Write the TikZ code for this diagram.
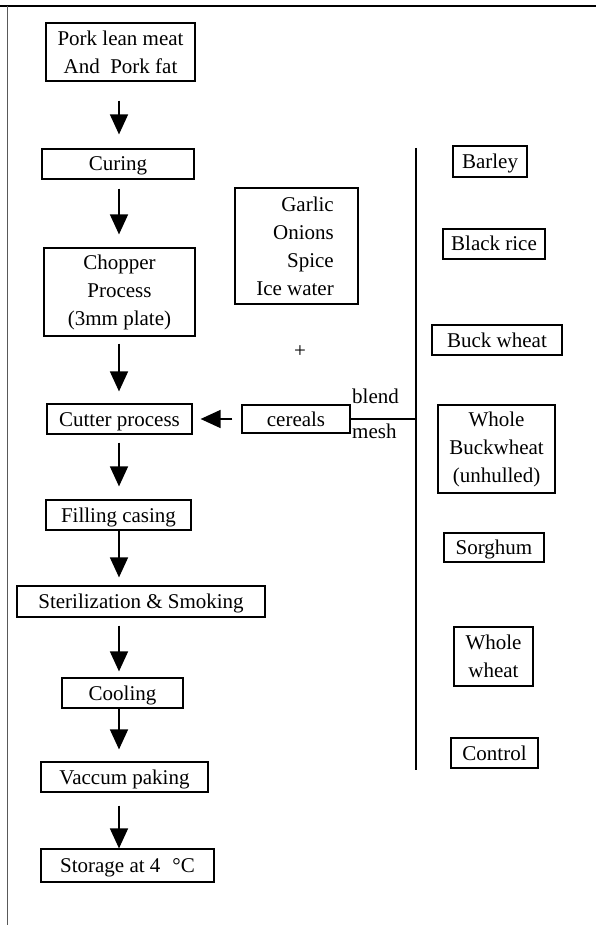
\documentclass[tikz,border=0pt]{standalone}
\usepackage{fontspec}
\setmainfont{Liberation Serif}
\usetikzlibrary{arrows.meta}
\tikzset{
  box/.style={draw, line width=1.2pt, inner sep=0pt, align=center, font=\fontsize{21}{28}\selectfont},
  one/.style={text height=16pt, text depth=2pt},
  lbl/.style={inner sep=0pt, font=\fontsize{21}{28}\selectfont},
  flow/.style={line width=1.5pt, -{Triangle[width=18pt,length=20pt]}},
  frame/.style={line width=1.8pt},
  sideframe/.style={line width=0.9pt, black!65},
  bar/.style={line width=1.4pt}
}
\begin{document}
\begin{tikzpicture}[x=1pt,y=-1pt]
\useasboundingbox (0,0) rectangle (596,925);
% frame
\coordinate (tl) at (0,6);
\coordinate (tr) at (596,6);
\coordinate (lt) at (7,6);
\coordinate (lb) at (7,925);
\draw[frame] (tl) -- (tr);
\draw[sideframe] (lt) -- (lb);
% main column
\node[box, minimum width=149pt, minimum height=58pt] (pork) at (120.5,52) {Pork lean meat\\And\ \ Pork fat};
\node[box, one, minimum width=152pt, minimum height=30pt] (curing) at (118,164) {Curing};
\node[box, minimum width=151pt, minimum height=88pt] (chopper) at (119.5,292) {Chopper\\Process\\(3mm plate)};
\node[box, one, minimum width=145pt, minimum height=30pt] (cutter) at (119.5,419) {Cutter process};
\node[box, one, minimum width=145pt, minimum height=30pt] (filling) at (118.5,515) {Filling casing};
\node[box, one, minimum width=248pt, minimum height=31pt] (steril) at (141,601.5) {Sterilization \& Smoking};
\node[box, one, minimum width=121pt, minimum height=30pt] (cooling) at (122.5,693) {Cooling};
\node[box, one, minimum width=167pt, minimum height=30pt] (vaccum) at (124.5,777) {Vaccum paking};
\node[box, one, minimum width=173pt, minimum height=33pt] (storage) at (127.5,865.5) {Storage at 4\hspace{12pt}°C};
% arrow axis
\coordinate (ax) at (119,0);
\draw[flow, shorten <=19pt, shorten >=14pt] (pork.south -| ax) -- (curing.north -| ax);
\draw[flow, shorten <=9pt, shorten >=13pt] (curing.south -| ax) -- (chopper.north -| ax);
\draw[flow, shorten <=7pt, shorten >=12pt] (chopper.south -| ax) -- (cutter.north -| ax);
\draw[flow, shorten <=8pt, shorten >=13pt] (cutter.south -| ax) -- (filling.north -| ax);
\draw[flow, shorten >=8pt] (filling.south -| ax) -- (steril.north -| ax);
\draw[flow, shorten <=8pt, shorten >=6pt] (steril.south -| ax) -- (cooling.north -| ax);
\draw[flow, shorten >=12pt] (cooling.south -| ax) -- (vaccum.north -| ax);
\draw[flow, shorten <=13pt] (vaccum.south -| ax) -- (storage.north -| ax);
% additives
\node[box, minimum width=123pt, minimum height=116pt] (spice) at (296.5,246) {};
\node[lbl, align=right, anchor=east] (spicetxt) at (334,246) {Garlic\\Onions\\Spice\\Ice water};
\node[lbl] (plus) at (300,352) {+};
\node[box, one, minimum width=108pt, minimum height=28pt] (cereals) at (296,419) {cereals};
\draw[flow, shorten <=9pt, shorten >=8pt] (cereals.west) -- (cutter.east);
% cereal list
\coordinate (vtop) at (416,148);
\coordinate (vbot) at (416,770);
\draw[bar] (vtop) -- (vbot);
\draw[bar] (cereals.east) -- (cereals.east -| vtop);
\node[lbl, anchor=base west] (blend) at (352,403) {blend};
\node[lbl, anchor=base west] (mesh) at (352,438) {mesh};
\node[box, one, minimum width=74pt, minimum height=31pt] (barley) at (490,161.5) {Barley};
\node[box, one, minimum width=102pt, minimum height=30pt] (black) at (494,244) {Black rice};
\node[box, one, minimum width=130pt, minimum height=30pt] (buck) at (497,340) {Buck wheat};
\node[box, minimum width=117pt, minimum height=88pt] (wbuck) at (496.5,449) {Whole\\Buckwheat\\(unhulled)};
\node[box, one, minimum width=100pt, minimum height=29pt] (sorghum) at (494,547.5) {Sorghum};
\node[box, minimum width=79pt, minimum height=59pt] (wwheat) at (493.5,656.5) {Whole\\wheat};
\node[box, one, minimum width=87pt, minimum height=30pt] (control) at (494.5,753) {Control};
\end{tikzpicture}
\end{document}
